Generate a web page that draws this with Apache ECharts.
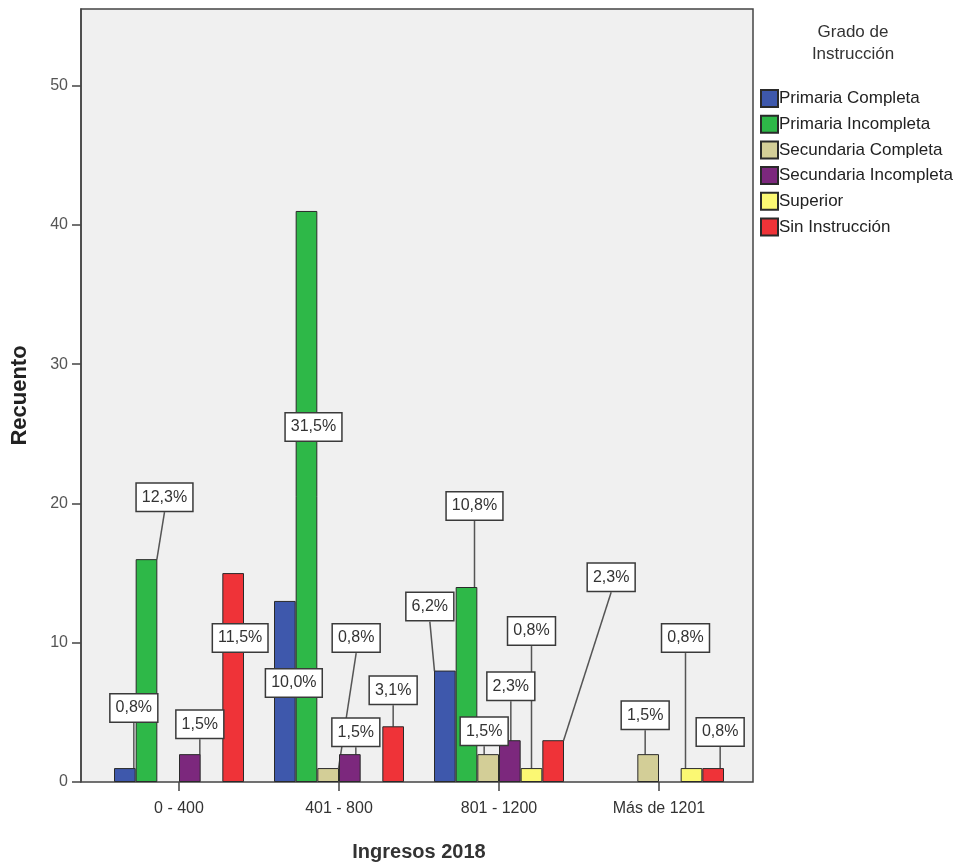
<!DOCTYPE html>
<html>
<head>
<meta charset="utf-8">
<script src="https://cdn.jsdelivr.net/npm/echarts@6/dist/echarts.min.js"></script>
<style>
html,body{margin:0;padding:0;background:#fff;}
#chart{width:958px;height:865px;}
</style>
</head>
<body>
<div id="chart"></div>
<script>
// ---- data ----
const categories = ['0 - 400', '401 - 800', '801 - 1200', 'Más de 1201'];
const seriesNames = ['Primaria Completa', 'Primaria Incompleta', 'Secundaria Completa', 'Secundaria Incompleta', 'Superior', 'Sin Instrucción'];
const primariaCompleta = [1, 13, 8, 0];
const primariaIncompleta = [16, 41, 14, 0];
const secundariaCompleta = [0, 1, 2, 2];
const secundariaIncompleta = [2, 2, 3, 0];
const superior = [0, 0, 1, 1];
const sinInstruccion = [15, 4, 3, 1];
const yTickValues = [0, 10, 20, 30, 40, 50];
const legendTitle = 'Grado de\nInstrucción';
const xAxisTitle = 'Ingresos 2018';
const yAxisTitle = 'Recuento';

// ---- styling / label placement (offsets from bar top centre to callout centre) ----
const colors = ['#3E58AC', '#2EB848', '#D3CE97', '#7C287D', '#FBF873', '#EF3338'];
const labelOffsets = [
  [[9, -60, 1], [9, 82, 0], [-15, -64, 1], null],
  [[18, -62, 1], [7, 216, 0], [8, -81, 1], null],
  [null, [28, -130, 1], [-4, -23, 1], [-3, -39, 1]],
  [[10, -30, 1], [6, -22, 1], [1, -54, 1], null],
  [null, null, [0, -137, 1], [-6, -130, 1]],
  [[7, 65, 0], [0, -36, 1], [58, -163, 1], [7, -36, 1]]
];

const allSeries = [primariaCompleta, primariaIncompleta, secundariaCompleta, secundariaIncompleta, superior, sinInstruccion];
const total = allSeries.reduce((s, arr) => s + arr.reduce((a, b) => a + b, 0), 0);
const yMax = 55.5;
const FONT = '"Liberation Sans", Arial, sans-serif';

function pct(v) {
  return (v / total * 100).toFixed(1).replace('.', ',') + '%';
}

const series = allSeries.map((arr, si) => ({
  name: seriesNames[si],
  type: 'bar',
  xAxisIndex: 1,
  yAxisIndex: 1,
  barGap: '0%',
  barCategoryGap: '18.75%',
  itemStyle: { color: colors[si], borderColor: '#2a2a2a', borderWidth: 1 },
  data: arr.map((v, di) => {
    const off = labelOffsets[si][di];
    const item = {
      value: v,
      label: { show: v > 0 },
      labelLine: { show: !!(off && off[2]) }
    };
    if (v === 0) item.itemStyle = { borderWidth: 0 };
    return item;
  }),
  label: {
    show: true,
    position: 'top',
    formatter: p => pct(p.value),
    fontFamily: FONT,
    fontSize: 16,
    color: '#333',
    backgroundColor: '#fff',
    borderColor: '#3a3a3a',
    borderWidth: 1.5,
    padding: [6, 5, 5, 5]
  },
  labelLine: {
    show: true,
    lineStyle: { color: '#555', width: 1.5 }
  },
  labelLayout: function (params) {
    const off = labelOffsets[params.seriesIndex][params.dataIndex];
    if (!off) return {};
    const r = params.rect;
    return {
      x: r.x + r.width / 2 + off[0],
      y: r.y + off[1],
      align: 'center',
      verticalAlign: 'middle'
    };
  },
  z: 2
}));

const chart = echarts.init(document.getElementById('chart'), null, { renderer: 'canvas' });
chart.setOption({
  backgroundColor: '#fff',
  animation: false,
  grid: [
    { left: 81, top: 9, width: 672, height: 773, outerBoundsMode: 'none', containLabel: false, show: true, backgroundColor: '#f0f0f0', borderColor: '#444', borderWidth: 1.5 },
    { left: 99, top: 9, width: 640, height: 773, outerBoundsMode: 'none', containLabel: false }
  ],
  xAxis: [
    { type: 'value', gridIndex: 0, min: 0, max: 1, show: false },
    {
      type: 'category', gridIndex: 1, data: categories,
      axisLine: { show: false },
      axisTick: { show: true, alignWithLabel: true, length: 9, lineStyle: { color: '#444', width: 1.5 } },
      axisLabel: { fontFamily: FONT, fontSize: 16, color: '#333', margin: 19 },
      name: xAxisTitle, nameLocation: 'middle', nameGap: 60,
      nameTextStyle: { fontFamily: FONT, fontSize: 20, fontWeight: 'bold', color: '#333' }
    }
  ],
  yAxis: [
    {
      type: 'value', gridIndex: 0, min: 0, max: yMax,
      axisLine: { show: true, lineStyle: { color: '#444', width: 1.5 } },
      axisTick: { show: true, length: 9, customValues: yTickValues, lineStyle: { color: '#444', width: 1.5 } },
      axisLabel: { customValues: yTickValues, fontFamily: FONT, fontSize: 16, color: '#555', margin: 13 },
      splitLine: { show: false },
      name: yAxisTitle, nameLocation: 'middle', nameGap: 50,
      nameTextStyle: { fontFamily: FONT, fontSize: 22, fontWeight: 'bold', color: '#222' }
    },
    { type: 'value', gridIndex: 1, min: 0, max: yMax, show: false }
  ],
  legend: {
    orient: 'vertical',
    left: 755,
    top: 84,
    icon: 'rect',
    itemWidth: 17,
    itemHeight: 17,
    itemGap: 6.7,
    selectedMode: false,
    textStyle: { fontFamily: FONT, fontSize: 17, color: '#222', padding: [0, 0, 0, -4] },
    data: seriesNames
  },
  graphic: [
    {
      type: 'text', x: 853, y: 21,
      style: { text: legendTitle, textAlign: 'center', font: '17px ' + FONT, fill: '#333', lineHeight: 22 }
    }
  ],
  series: series
});
</script>
</body>
</html>
